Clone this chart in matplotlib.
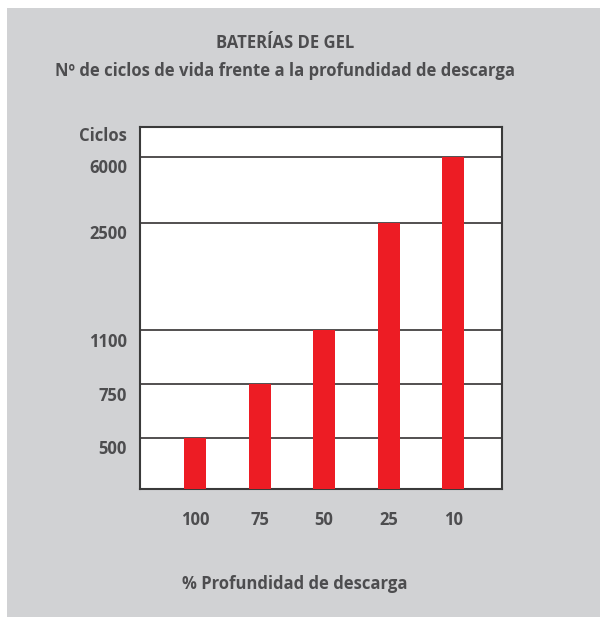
#importing libraries
import numpy as np
import matplotlib
matplotlib.use('Agg')
import matplotlib.pyplot as plt
import matplotlib.transforms as mtransforms
from matplotlib.patches import Rectangle

#data
profundidad = ['100', '75', '50', '25', '10']
ciclos = [500, 750, 1100, 2500, 6000]
ticks_y = [500, 750, 1100, 2500, 6000]

#the original axis is not linear, each level sits on its own step
niveles = [0, 500, 750, 1100, 2500, 6000, 7600]
escalones = [0, 0.95, 1.94, 2.94, 4.93, 6.15, 6.70]

def forward(v):
    return np.interp(v, niveles, escalones)

def inverse(p):
    return np.interp(p, escalones, niveles)

gris_texto = '#4d4d4f'
plt.rcParams['font.family'] = ['Open Sans', 'DejaVu Sans']

fig = plt.figure(figsize=(6, 6.17), dpi=100)
fig.patch.set_facecolor('white')
#grey panel behind everything
fig.patches.append(Rectangle((7 / 600, 0), 1, 1 - 8 / 617, transform=fig.transFigure,
                             facecolor='#d1d2d4', edgecolor='none', zorder=-5))

ax = fig.add_axes([0.2325, 0.2075, 0.604, 0.5867])
ax.set_zorder(2)
ax.set_facecolor('white')
ax.set_yscale('function', functions=(forward, inverse))

x = np.arange(len(profundidad))
ax.bar(x, ciclos, width=0.34, color='#ed1c24', zorder=3)

ax.set_xlim(-0.86, 4.755)
ax.set_ylim(0, 7600)

#horizontal lines
for v in ticks_y:
    ax.axhline(v, color='#231f20', lw=1.1, zorder=2)

for s in ax.spines.values():
    s.set_color('#3a3a3a')
    s.set_linewidth(1.5)

ax.set_xticks(x)
ax.set_xticklabels(profundidad)
ax.set_yticks(ticks_y)
ax.set_yticklabels([str(v) for v in ticks_y])
ax.tick_params(length=0)
ax.tick_params(axis='x', pad=16)
ax.tick_params(axis='y', pad=9)
for lab in ax.get_xticklabels() + ax.get_yticklabels():
    lab.set_fontsize(12)
    lab.set_fontweight('bold')
    lab.set_color(gris_texto)
#labels of the y axis sit a bit under each line
desplaza = mtransforms.ScaledTranslation(0, -9.5 / 100, fig.dpi_scale_trans)
for lab in ax.get_yticklabels():
    lab.set_transform(lab.get_transform() + desplaza)

fig.text(127 / 600, 1 - 136 / 617, 'Ciclos', ha='right', va='center',
         fontsize=12, fontweight='bold', color=gris_texto)

fig.text(0.475, 0.9225, 'BATERÍAS DE GEL', ha='center', va='baseline',
         fontsize=12, fontweight='bold', color=gris_texto)
fig.text(0.475, 0.877, 'Nº de ciclos de vida frente a la profundidad de descarga',
         ha='center', va='baseline', fontsize=12, fontweight='bold', color=gris_texto)
fig.text(0.491, 0.046, '% Profundidad de descarga', ha='center', va='baseline',
         fontsize=12, fontweight='bold', color=gris_texto)

plt.savefig('out.png', dpi=100)
